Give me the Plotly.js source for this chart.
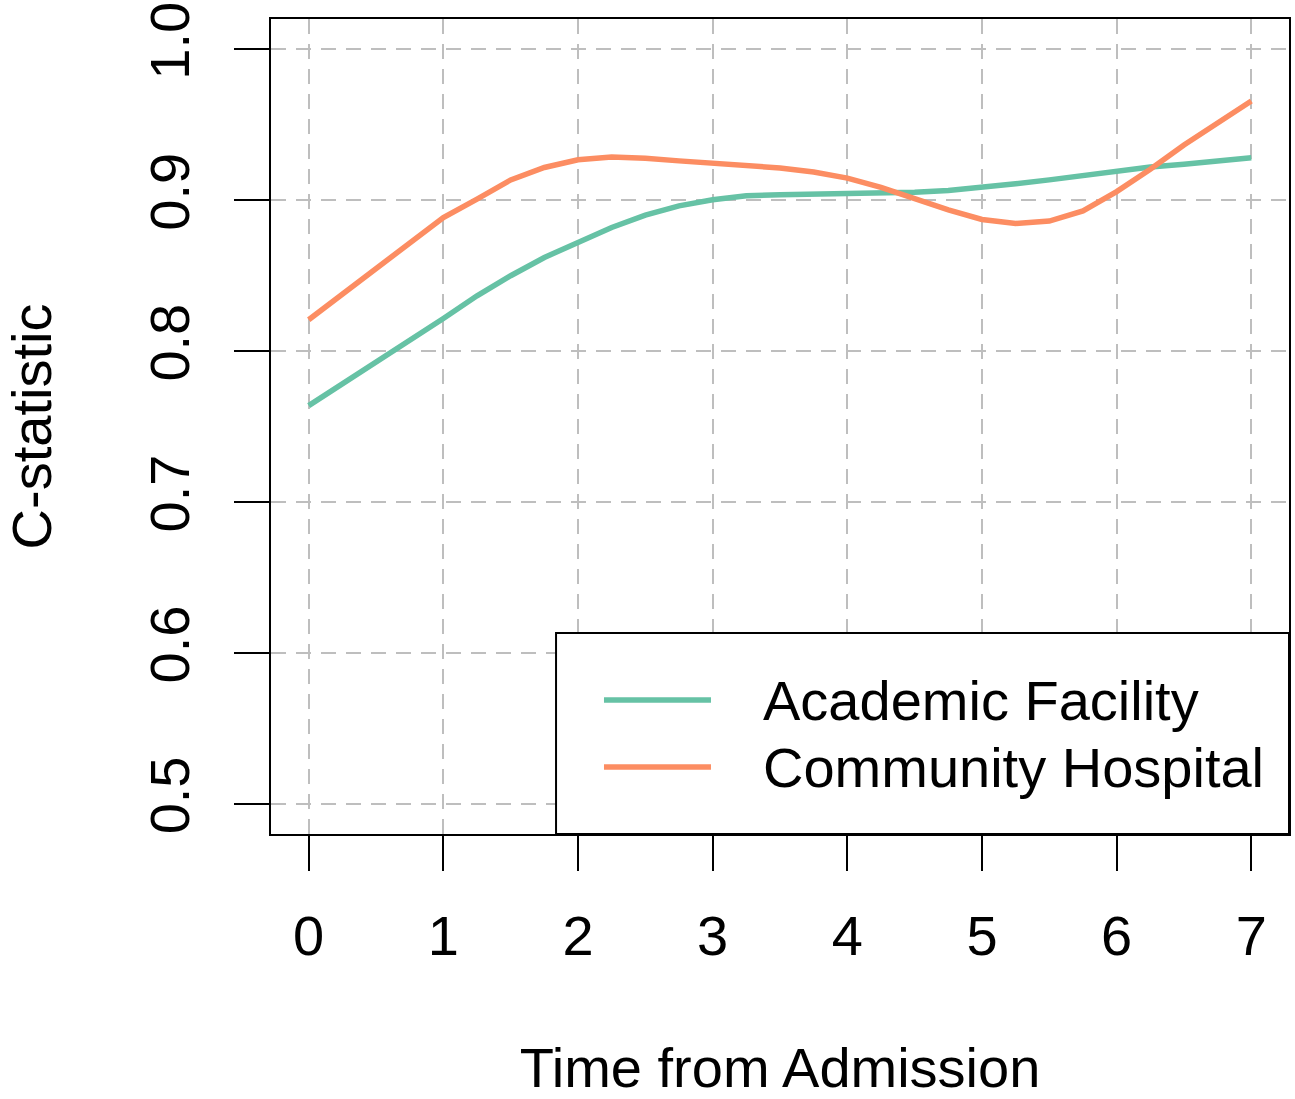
<!DOCTYPE html>
<html>
<head>
<meta charset="utf-8">
<script src="https://cdn.plot.ly/plotly-3.0.1.min.js"></script>
<style>html,body{margin:0;padding:0;background:#fff;}#chart{width:1295px;height:1099px;}</style>
</head>
<body>
<div id="chart"></div>
<script>
// ---- data ----
const timePoints = [0, 0.25, 0.5, 0.75, 1, 1.25, 1.5, 1.75, 2, 2.25, 2.5, 2.75, 3, 3.25, 3.5, 3.75, 4, 4.25, 4.5, 4.75, 5, 5.25, 5.5, 5.75, 6, 6.25, 6.5, 6.75, 7];
const academicFacility = [0.7638, 0.7781, 0.7925, 0.8071, 0.8216, 0.8366, 0.8499, 0.8620, 0.8724, 0.8819, 0.8901, 0.8962, 0.9002, 0.9029, 0.9036, 0.9040, 0.9040, 0.9045, 0.9052, 0.9063, 0.9083, 0.9108, 0.9134, 0.9164, 0.9190, 0.9220, 0.9238, 0.9258, 0.9280];
const communityHospital = [0.8207, 0.8377, 0.8543, 0.8709, 0.8885, 0.9007, 0.9134, 0.9216, 0.9267, 0.9285, 0.9278, 0.9260, 0.9243, 0.9228, 0.9213, 0.9186, 0.9146, 0.9085, 0.9011, 0.8935, 0.8872, 0.8845, 0.8861, 0.8928, 0.9056, 0.9204, 0.9365, 0.9511, 0.9657];
const seriesNames = ["Academic Facility", "Community Hospital"];
const xTickVals = [0, 1, 2, 3, 4, 5, 6, 7];
const xTickText = ["0", "1", "2", "3", "4", "5", "6", "7"];
const yTickVals = [0.5, 0.6, 0.7, 0.8, 0.9, 1.0];
const yTickText = ["0.5", "0.6", "0.7", "0.8", "0.9", "1.0"];
const xTitle = "Time from Admission";
const yTitle = "C-statistic";

// ---- styles ----
const colors = ["#66C2A5", "#FC8D62"];
const FONT = "'Liberation Sans', Arial, Helvetica, sans-serif";
const FS = 56;

const traces = [
  {x: timePoints, y: academicFacility, name: seriesNames[0], type: "scatter", mode: "lines",
   line: {color: colors[0], width: 5.5}, showlegend: false},
  {x: timePoints, y: communityHospital, name: seriesNames[1], type: "scatter", mode: "lines",
   line: {color: colors[1], width: 5.5}, showlegend: false}
];

// custom legend (R-style box)
const lgX0 = 0.28, lgY1 = 0.2466;
const lineX0 = 0.3271, lineX1 = 0.4322, textX = 0.4813;
const rowY = [0.1644, 0.0822];

const shapes = [
  {type: "rect", xref: "paper", yref: "paper", x0: lgX0, x1: 1, y0: 0, y1: lgY1,
   fillcolor: "#ffffff", line: {color: "#000000", width: 2}, layer: "above"}
];
const annotations = [];
seriesNames.forEach((nm, i) => {
  shapes.push({type: "line", xref: "paper", yref: "paper", x0: lineX0, x1: lineX1, y0: rowY[i], y1: rowY[i],
    line: {color: colors[i], width: 5.5}, layer: "above"});
  annotations.push({xref: "paper", yref: "paper", x: textX, y: rowY[i], xanchor: "left", yanchor: "middle",
    text: nm, showarrow: false, font: {family: FONT, size: FS, color: "#000"}});
});

const layout = {
  width: 1295, height: 1099,
  margin: {l: 271, r: 6, t: 19, b: 265},
  paper_bgcolor: "#ffffff", plot_bgcolor: "#ffffff",
  font: {family: FONT, size: FS, color: "#000"},
  showlegend: false,
  xaxis: {
    range: [-0.28, 7.28], tickvals: xTickVals, ticktext: xTickText,
    ticks: "outside", ticklen: 35, tickwidth: 2, tickcolor: "#000",
    showline: true, mirror: true, linecolor: "#000", linewidth: 2,
    showgrid: true, gridcolor: "#bebebe", gridwidth: 2, griddash: "15px,10px",
    zeroline: false, ticklabelstandoff: 17,
    tickfont: {family: FONT, size: FS, color: "#000"},
    title: {text: xTitle, font: {family: FONT, size: FS, color: "#000"}, standoff: 86}
  },
  yaxis: {
    range: [0.48, 1.02], tickvals: yTickVals, ticktext: yTickText, tickangle: -90,
    ticks: "outside", ticklen: 35, tickwidth: 2, tickcolor: "#000",
    showline: true, mirror: true, linecolor: "#000", linewidth: 2,
    showgrid: true, gridcolor: "#bebebe", gridwidth: 2, griddash: "15px,10px",
    zeroline: false, ticklabelstandoff: 23,
    tickfont: {family: FONT, size: FS, color: "#000"},
    title: {text: yTitle, font: {family: FONT, size: FS, color: "#000"}, standoff: 69}
  },
  shapes: shapes,
  annotations: annotations
};

Plotly.newPlot("chart", traces, layout, {displayModeBar: false, staticPlot: true});
</script>
</body>
</html>
